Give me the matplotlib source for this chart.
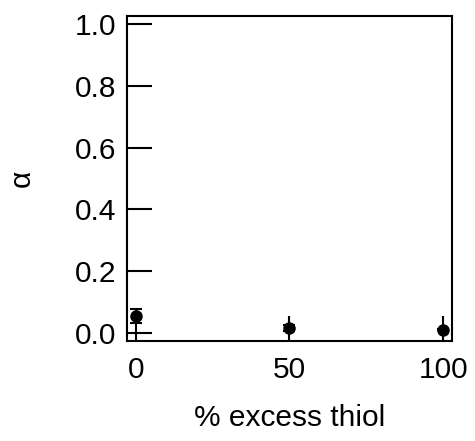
import numpy as np
import matplotlib.pyplot as plt

plt.rcParams['font.family'] = ['Liberation Sans', 'DejaVu Sans']

excess = [0, 50, 100]
alpha = [0.055, 0.016, 0.011]
alpha_err = [0.022, 0.010, 0.003]

fig = plt.figure(figsize=(4.75, 4.41), dpi=100)
ax = fig.add_axes([127 / 475, 1 - 341 / 441, 325 / 475, 325 / 441])

ax.errorbar(excess, alpha, yerr=alpha_err, fmt='o', color='black',
            markersize=8, capsize=4.5, elinewidth=1.5, capthick=1.5)

ax.set_xlim(-2.9, 102.9)
ax.set_ylim(-0.026, 1.026)
ax.set_xticks([0, 50, 100])
ax.set_yticks(np.arange(0, 1.01, 0.2))
ax.set_yticklabels(['0.0', '0.2', '0.4', '0.6', '0.8', '1.0'])
ax.tick_params(direction='in', length=18, width=1.5, labelsize=21.5)
ax.tick_params(axis='x', pad=11)
ax.tick_params(axis='y', pad=8)
for s in ax.spines.values():
    s.set_linewidth(1.5)

ax.set_xlabel('% excess thiol', fontsize=21.5, labelpad=14)
ax.set_ylabel('α', fontsize=21.5, labelpad=28)

fig.savefig('out.png', dpi=100)
